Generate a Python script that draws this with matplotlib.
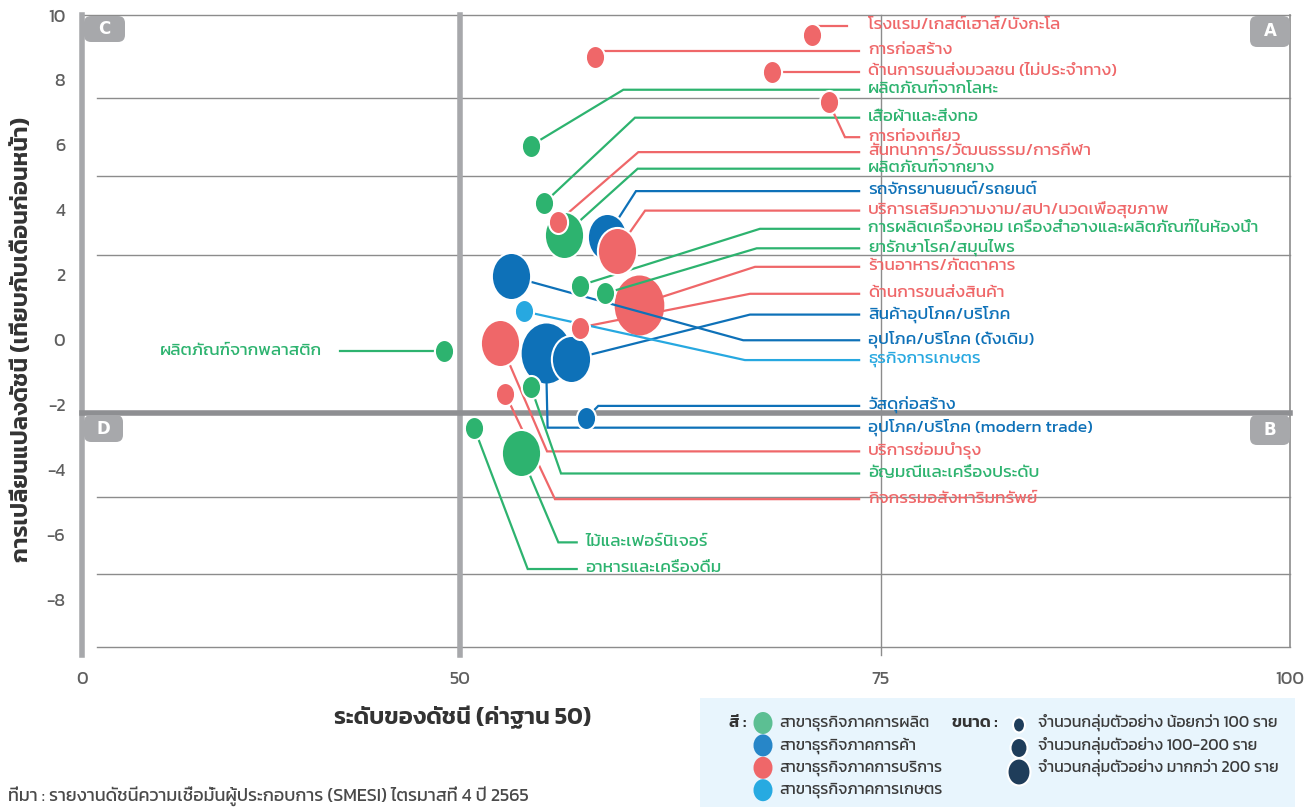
import numpy as np
import matplotlib
matplotlib.use('Agg')
import matplotlib.pyplot as plt
from matplotlib.patches import FancyBboxPatch, Ellipse, Rectangle
from matplotlib.path import Path

plt.rcParams['font.family'] = ['Kanit', 'DejaVu Sans']

# ---- data ----
names = ['โรงแรม/เกสต์เฮาส์/บังกะโล', 'การก่อสร้าง', 'ด้านการขนส่งมวลชน (ไม่ประจำทาง)',
         'ผลิตภัณฑ์จากโลหะ', 'เสื้อผ้าและสิ่งทอ', 'การท่องเที่ยว',
         'สันทนาการ/วัฒนธรรม/การกีฬา', 'ผลิตภัณฑ์จากยาง', 'รถจักรยานยนต์/รถยนต์',
         'บริการเสริมความงาม/สปา/นวดเพื่อสุขภาพ',
         'การผลิตเครื่องหอม เครื่องสำอางและผลิตภัณฑ์ในห้องน้ำ',
         'ยารักษาโรค/สมุนไพร', 'ร้านอาหาร/ภัตตาคาร', 'ด้านการขนส่งสินค้า',
         'สินค้าอุปโภค/บริโภค', 'อุปโภค/บริโภค (ดั้งเดิม)', 'ธุรกิจการเกษตร',
         'วัสดุก่อสร้าง', 'อุปโภค/บริโภค (modern trade)', 'บริการซ่อมบำรุง',
         'อัญมณีและเครื่องประดับ', 'กิจกรรมอสังหาริมทรัพย์', 'ไม้และเฟอร์นิเจอร์',
         'อาหารและเครื่องดื่ม', 'ผลิตภัณฑ์จากพลาสติก']
sector = ['svc', 'svc', 'svc', 'mfg', 'mfg', 'svc', 'svc', 'mfg', 'trd', 'svc',
          'mfg', 'mfg', 'svc', 'svc', 'trd', 'trd', 'agr', 'trd', 'trd', 'svc',
          'mfg', 'svc', 'mfg', 'mfg', 'mfg']
level = [70.9, 58.0, 68.5, 54.2, 55.0, 71.9, 55.8, 56.2, 58.7, 59.3,
         57.1, 58.6, 60.6, 57.1, 56.6, 53.0, 53.8, 57.5, 55.1, 52.4,
         54.2, 52.7, 53.6, 50.85, 47.9]
change = [9.39, 8.70, 8.26, 5.98, 4.22, 7.31, 3.63, 3.24, 3.17, 2.73,
          1.67, 1.43, 1.09, 0.38, -0.60, 1.96, 0.88, -2.41, -0.39, -0.09,
          -1.44, -1.67, -3.49, -2.72, -0.35]
# 1: < 100 firms, 2: 100-200, 3: > 200
size_grp = [1, 1, 1, 1, 1, 1, 1, 2, 2, 2,
            1, 1, 3, 1, 2, 2, 1, 1, 3, 2,
            1, 1, 2, 1, 1]

# ---- label layout ----
label_y = [9.66, 8.89, 8.26, 7.70, 6.84, 6.24, 5.78, 5.27, 4.58, 3.98,
           3.42, 2.82, 2.25, 1.42, 0.78, -0.01, -0.62, -2.03, -2.70, -3.43,
           -4.11, -4.90, -6.23, -7.05, -0.35]
elbow_x = [70.9, 58.0, 68.5, 59.70, 60.39, 72.86, 60.59, 60.55, 60.45, 60.99,
           67.81, 67.62, 67.52, 67.22, 67.22, 66.82, 66.92, 58.21, 55.2, 55.17,
           56.0, 55.64, 55.84, 54.02, 47.9]
line_end = [72.98] + [73.7] * 21 + [56.93, 56.93, 34.13]
label_x = [74.25] * 22 + [57.42, 57.42, 31.75]

colors = {'mfg': '#2db36f', 'trd': '#0e71b8', 'svc': '#ef6769', 'agr': '#27a8e0'}
marker_s = {1: 275, 2: 1150, 3: 2000}
bubble_z = {3: 2, 2: 4, 1: 5}

W, H = 1314, 807
fig = plt.figure(figsize=(W / 100, H / 100), dpi=100)
ax = fig.add_axes([82 / W, 1 - 647 / H, (1290 - 82) / W, (647 - 15) / H])

xp = [0, 50, 75, 100]
fp = [0, 378, 799, 1208]
ax.set_xscale('function', functions=(lambda v: np.interp(v, xp, fp),
                                     lambda u: np.interp(u, fp, xp)))
ax.set_xlim(0, 100)
ax.set_ylim(-9.45, 10)
for s in ax.spines.values():
    s.set_visible(False)

thin = '#8c8c8c'
for gy in [7.45, 5.05, 2.62, -4.83, -7.2, -9.45]:
    ax.plot([2, 100], [gy, gy], color=thin, lw=1, zorder=1, clip_on=False)
ax.plot([0, 100], [10, 10], color=thin, lw=1, zorder=1, clip_on=False)
ax.plot([100, 100], [10, -9.45], color=thin, lw=1.2, zorder=1, clip_on=False)
ax.plot([75, 75], [10, -9.7], color=thin, lw=1, zorder=1, clip_on=False)
ax.plot([0, 0], [10, -9.7], color='#a7a8ab', lw=4, zorder=1, clip_on=False)
ax.plot([50, 50], [10, -9.7], color='#a7a8ab', lw=4, zorder=1, clip_on=False)
ax.plot([0, 100], [-2.25, -2.25], color='#8e8f92', lw=4, zorder=1, clip_on=False)

# elliptical bubble marker (slightly taller than wide)
uc = Path.unit_circle()
oval = Path(uc.vertices * [1.0, 1.2], uc.codes)

for i, n in enumerate(names):
    c = colors[sector[i]]
    ax.plot([level[i], elbow_x[i], line_end[i]], [change[i], label_y[i], label_y[i]],
            color=c, lw=1.6, zorder=3, solid_joinstyle='miter', clip_on=False)
    ax.scatter([level[i]], [change[i]], s=marker_s[size_grp[i]], marker=oval,
               color=c, edgecolors='white', linewidths=1.5,
               zorder=bubble_z[size_grp[i]], clip_on=False)
    ha = 'right' if label_x[i] < level[i] else 'left'
    ax.text(label_x[i], label_y[i] + 0.02, n, color=c, fontsize=12.5,
            fontweight='normal', ha=ha, va='center', zorder=6)

ax.set_yticks(range(-8, 11, 2))
ax.set_yticklabels([str(v) for v in range(-8, 11, 2)])
ax.set_xticks([0, 50, 75, 100])
ax.set_xticklabels(['0', '50', '75', '100'])
ax.tick_params(length=0, labelsize=13, labelcolor='#5f5f5f')
ax.tick_params(axis='y', pad=12)
ax.tick_params(axis='x', pad=17)
ax.get_xticklabels()[0].set_x(0.4)

tr = fig.dpi_scale_trans


def P(x, y):
    return x / 100, (H - y) / 100


# quadrant tags
for (x0, y0, x1, y1, letter) in [(84, 16, 125, 42, 'C'), (1250, 16, 1290, 47, 'A'),
                                 (84, 415, 123, 442, 'D'), (1250, 415, 1290, 445, 'B')]:
    fig.add_artist(FancyBboxPatch(P(x0, y1), (x1 - x0) / 100, (y1 - y0) / 100,
                                  boxstyle='round,pad=0,rounding_size=0.07',
                                  fc='#a7a8ab', ec='none', transform=tr, zorder=5))
    fig.text(*P((x0 + x1) / 2, (y0 + y1) / 2), letter, transform=tr, color='white',
             fontsize=12, fontweight='bold', ha='center', va='center', zorder=6,
             family='DejaVu Sans')

fig.text(*P(22, 340), 'การเปลี่ยนแปลงดัชนี (เทียบกับเดือนก่อนหน้า)', transform=tr,
         rotation=90, fontsize=17, fontweight='semibold', color='#333333',
         ha='center', va='center')
fig.text(*P(463, 718), 'ระดับของดัชนี (ค่าฐาน 50)', transform=tr,
         fontsize=17, fontweight='semibold', color='#333333', ha='center', va='center')
fig.text(*P(8, 796), 'ที่มา : รายงานดัชนีความเชื่อมั่นผู้ประกอบการ (SMESI) ไตรมาสที่ 4 ปี 2565',
         transform=tr, fontsize=13, fontweight='normal', color='#4a4a4a',
         ha='left', va='center')

# legend panel
fig.add_artist(Rectangle(P(700, 807), 5.95, 1.09, transform=tr, fc='#e8f5fd',
                         ec='none', zorder=1))
fig.text(*P(746, 723), 'สี :', transform=tr, fontsize=12, fontweight='semibold',
         color='#333333', ha='right', va='center', zorder=3)
leg_cols = ['#5cbf93', '#2786c8', '#ef6769', '#27aae1']
leg_txt = ['สาขาธุรกิจภาคการผลิต', 'สาขาธุรกิจภาคการค้า', 'สาขาธุรกิจภาคการบริการ',
           'สาขาธุรกิจภาคการเกษตร']
for k, (c, t) in enumerate(zip(leg_cols, leg_txt)):
    yy = 723 + k * 22.4
    fig.add_artist(Ellipse(P(763, yy), 0.19, 0.22, transform=tr, fc=c, ec='none', zorder=3))
    fig.text(*P(779, yy), t, transform=tr, fontsize=11.5, fontweight='normal',
             color='#3a3a3a', ha='left', va='center', zorder=3)
fig.text(*P(998, 723), 'ขนาด :', transform=tr, fontsize=12, fontweight='semibold',
         color='#333333', ha='right', va='center', zorder=3)
size_txt = ['จำนวนกลุ่มตัวอย่าง น้อยกว่า 100 ราย', 'จำนวนกลุ่มตัวอย่าง 100-200 ราย',
            'จำนวนกลุ่มตัวอย่าง มากกว่า 200 ราย']
for k, (t, (w, h)) in enumerate(zip(size_txt, [(12, 15), (17, 20), (23, 27)])):
    yy = [725, 748, 772][k]
    fig.add_artist(Ellipse(P(1019, yy), w / 100, h / 100, transform=tr, fc='#1f3d5a',
                           ec='white', lw=1.5, zorder=3))
    fig.text(*P(1038, [722, 745, 767][k]), t, transform=tr, fontsize=11.5,
             fontweight='normal', color='#3a3a3a', ha='left', va='center', zorder=3)

fig.savefig('out.png', dpi=100)
